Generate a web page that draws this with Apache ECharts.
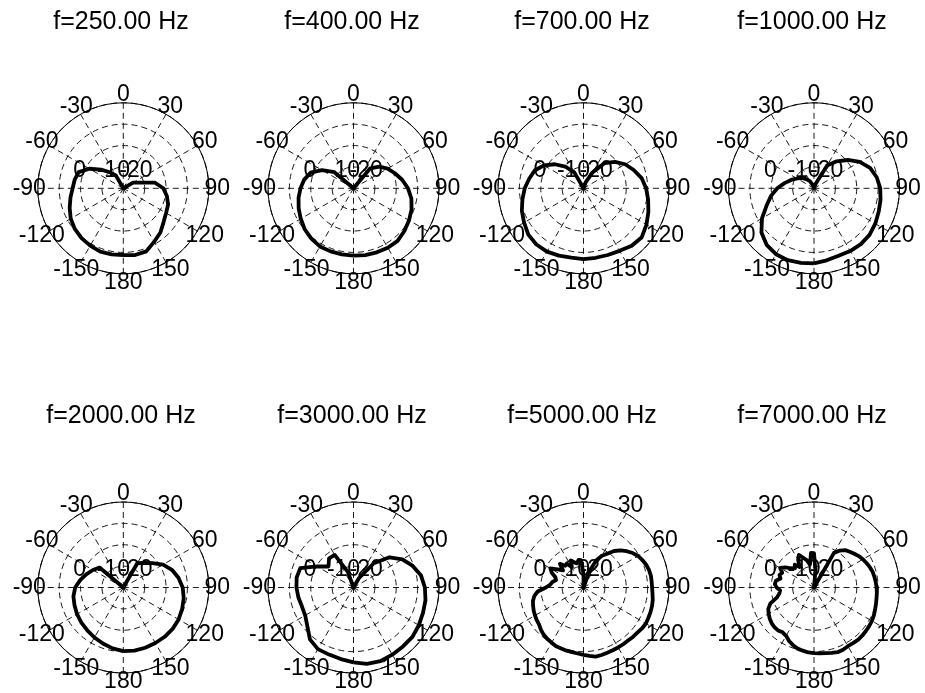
<!DOCTYPE html>
<html><head><meta charset="utf-8">
<script src="https://cdn.jsdelivr.net/npm/echarts@6/dist/echarts.min.js"></script>
<style>html,body{margin:0;padding:0;background:#fff}#c{width:925px;height:693px}</style>
</head><body><div id="c"></div>
<script>
// ---------------- data ----------------
const titles = ['f=250.00 Hz','f=400.00 Hz','f=700.00 Hz','f=1000.00 Hz','f=2000.00 Hz','f=3000.00 Hz','f=5000.00 Hz','f=7000.00 Hz'];
const angles10 = [-180,-170,-160,-150,-140,-130,-120,-110,-100,-90,-80,-70,-60,-50,-40,-30,-20,-10,0,10,20,30,40,50,60,70,80,90,100,110,120,130,140,150,160,170,180];
const angles5 = [-180,-175,-170,-165,-160,-155,-150,-145,-140,-135,-130,-125,-120,-115,-110,-105,-100,-95,-90,-85,-80,-75,-70,-65,-60,-55,-50,-45,-40,-35,-30,-25,-20,-15,-10,-5,0,5,10,15,20,25,30,35,40,45,50,55,60,65,70,75,80,85,90,95,100,105,110,115,120,125,130,135,140,145,150,155,160,165,170,175,180];
const r250 = [1.2,1.4,1.5,1.0,0.4,-0.4,-1.6,-3.3,-4.9,-6.3,-6.9,-7.8,-11.7,-16.4,-20.2,-23.0,-30,-30,-30,-30,-30,-30,-30,-30,-24.7,-22.2,-14.9,-11.3,-9.3,-7.7,-6.9,-5.4,-3.0,-1.1,1.4,1.7,1.2];
const r400 = [1.5,1.4,1.4,1.4,0.7,-0.2,-1.5,-2.7,-3.9,-5.2,-6.6,-8.6,-13.0,-18.3,-30,-30,-30,-30,-30,-30,-30,-30,-17.8,-14.2,-11.6,-9.4,-6.9,-4.5,-2.5,-1.1,0.0,1.1,2.1,2.1,1.9,1.7,1.5];
const r700 = [3.1,2.9,3.5,4.2,4.3,3.7,2.1,0.7,-1.0,-2.5,-4.2,-5.7,-8.6,-12.5,-16.7,-21.4,-30,-30,-30,-30,-26.9,-21.3,-14.6,-10.8,-7.5,-5.0,-2.4,-0.7,0.7,2.3,4.0,5.6,5.1,3.8,3.2,3.0,3.1];
const r1000 = [5.1,5.4,5.8,5.6,4.5,2.1,-1.9,-6.4,-9.6,-12.8,-16.0,-18.6,-20.8,-22.5,-24.4,-26.1,-28.4,-30,-30,-30,-27.7,-17.7,-13.5,-9.4,-5.3,-2.1,-0.2,1.0,1.6,2.2,3.1,3.9,4.1,3.9,3.6,4.2,5.1];
const r2000 = [-0.2,-1.1,-2.1,-3.0,-3.8,-4.4,-5.0,-5.7,-6.3,-7.5,-9.6,-11.7,-13.6,-15.5,-30,-30,-30,-30,-30,-30,-30,-16.9,-14.9,-12.2,-8.5,-5.8,-3.8,-2.2,-1.3,-0.7,-0.1,0.1,0.1,0.0,0.0,0.0,-0.2];
const r3000 = [5.0,4.0,3.4,3.3,1.7,-1.8,-3.9,-4.3,-3.8,-3.3,-3.0,-3.5,-10.3,-14.7,-12.2,-12.4,-22.2,-30,-30,-30,-30,-25.0,-15.2,-8.0,-3.6,-0.5,2.1,3.4,4.2,4.6,5.3,6.0,6.0,6.3,6.7,6.3,5.0];
const r5000 = [1.5,1.0,0.7,0.6,0.4,0.3,-0.2,-0.6,-1.1,-1.9,-2.9,-3.3,-3.8,-4.3,-4.9,-5.5,-6.6,-8.5,-12.4,-14.4,-15.2,-16.7,-16.0,-13.6,-12.1,-15.2,-17.5,-14.4,-16.7,-16.3,-19.1,-16.0,-17.5,-18.3,-16.9,-17.1,
  -23.8,-30,-30,-30,-22.2,-16.0,-12.8,-10.7,-7.7,-5.4,-3.6,-1.9,-0.5,0.4,1.2,1.7,2.0,2.0,2.1,2.4,2.9,3.2,3.4,3.5,3.7,3.4,2.9,2.7,2.4,2.4,2.4,2.4,2.5,2.7,2.8,2.1,1.5];
const r7000 = [0.7,0.5,0.0,-0.4,-1.3,-2.4,-3.9,-4.4,-3.8,-3.8,-4.1,-4.7,-5.5,-6.4,-8.3,-12.1,-13.5,-14.1,-12.5,-11.6,-11.9,-13.8,-12.8,-13.6,-11.7,-13.6,-16.0,-17.4,-16.0,-18.3,-15.2,-13.2,-15.2,-16.7,-19.1,-13.8,
  -13.9,-22.2,-30,-30,-30,-30,-11.3,-8.9,-7.2,-6.3,-5.4,-4.4,-3.6,-2.9,-2.2,-1.6,-1.3,-1.0,-0.7,-0.5,-0.3,0.0,0.4,0.9,1.3,1.5,1.7,1.9,2.0,1.8,1.7,2.1,2.2,1.7,1.2,0.9,0.7];
const angleTickLabels = [-150,-120,-90,-60,-30,0,30,60,90,120,150,180];
const radialTickLabels = ['0','-10','-20'];
const radialMin = -30, radialMax = 10, radialStep = 10;

// ---------------- layout / style ----------------
const FONT = "'Liberation Sans', Arial, Helvetica, sans-serif";
const colX = [123.3, 353.5, 583.5, 814];
const rowY = [188.3, 587.5];
const titleX = [121, 352, 582, 812];
const titleY = [22, 416];
const R = 85.5;
const ANGLE_LABEL_R = 14;            // 1.1 x outer radius in axis units
const radialLabelDX = [-50, -26.6, -4];
const radialLabelDY = -17.5;

const plots = [
  {t: titles[0], a: angles10, v: r250},
  {t: titles[1], a: angles10, v: r400},
  {t: titles[2], a: angles10, v: r700},
  {t: titles[3], a: angles10, v: r1000},
  {t: titles[4], a: angles10, v: r2000},
  {t: titles[5], a: angles10, v: r3000},
  {t: titles[6], a: angles5, v: r5000},
  {t: titles[7], a: angles5, v: r7000}
];

const dashed = {color: '#000', width: 0.9, type: [6, 4]};
const polar = [], angleAxis = [], radiusAxis = [], series = [], title = [];
plots.forEach((p, i) => {
  const row = Math.floor(i / 4), col = i % 4;
  const cx = colX[col], cy = rowY[row];
  polar.push({center: [cx, cy], radius: R});
  angleAxis.push({
    polarIndex: i, type: 'value', min: -180, max: 180, interval: 30,
    startAngle: 270, clockwise: true,
    axisLine: {show: true, lineStyle: {color: '#000', width: 1}},
    axisTick: {show: false}, axisLabel: {show: false},
    splitLine: {show: true, lineStyle: dashed}
  });
  radiusAxis.push({
    polarIndex: i, type: 'value', min: radialMin, max: radialMax, interval: radialStep,
    axisLine: {show: false}, axisTick: {show: false}, axisLabel: {show: false},
    splitLine: {show: true, lineStyle: dashed}
  });
  title.push({
    text: p.t, left: titleX[col], top: titleY[row], textAlign: 'center', textVerticalAlign: 'middle', padding: 0,
    textStyle: {fontFamily: FONT, fontSize: 25, fontWeight: 'normal', color: '#000'}
  });
  // angle tick labels
  series.push({
    type: 'scatter', coordinateSystem: 'polar', polarIndex: i, clip: false, silent: true,
    symbolSize: 1, itemStyle: {color: 'rgba(255,255,255,0)', opacity: 1}, z: 3,
    data: angleTickLabels.map(a => ({value: [ANGLE_LABEL_R, a], name: String(a)})),
    label: {show: true, position: 'inside', formatter: '{b}', color: '#000', opacity: 1,
            fontFamily: FONT, fontSize: 23, align: 'center', verticalAlign: 'middle'}
  });
  // radial tick labels
  series.push({
    type: 'scatter', coordinateSystem: 'polar', polarIndex: i, clip: false, silent: true,
    symbolSize: 1, itemStyle: {color: 'rgba(255,255,255,0)', opacity: 1}, z: 3,
    data: radialTickLabels.map((t, k) => ({value: [radialMin, 0], name: t,
            label: {offset: [radialLabelDX[k], radialLabelDY]}})),
    label: {show: true, position: 'inside', formatter: '{b}', color: '#000', opacity: 1,
            fontFamily: FONT, fontSize: 23, align: 'left', verticalAlign: 'middle'}
  });
  // pattern curve
  series.push({
    type: 'line', coordinateSystem: 'polar', polarIndex: i, silent: true, z: 5,
    symbol: 'none', smooth: false,
    data: p.v.map((v, k) => [v, p.a[k]]),
    lineStyle: {color: '#000', width: 3.8, join: 'round'}
  });
});

const chart = echarts.init(document.getElementById('c'), null, {renderer: 'canvas'});
chart.setOption({animation: false, backgroundColor: '#fff', title, polar, angleAxis, radiusAxis, series});
</script>
</body></html>
